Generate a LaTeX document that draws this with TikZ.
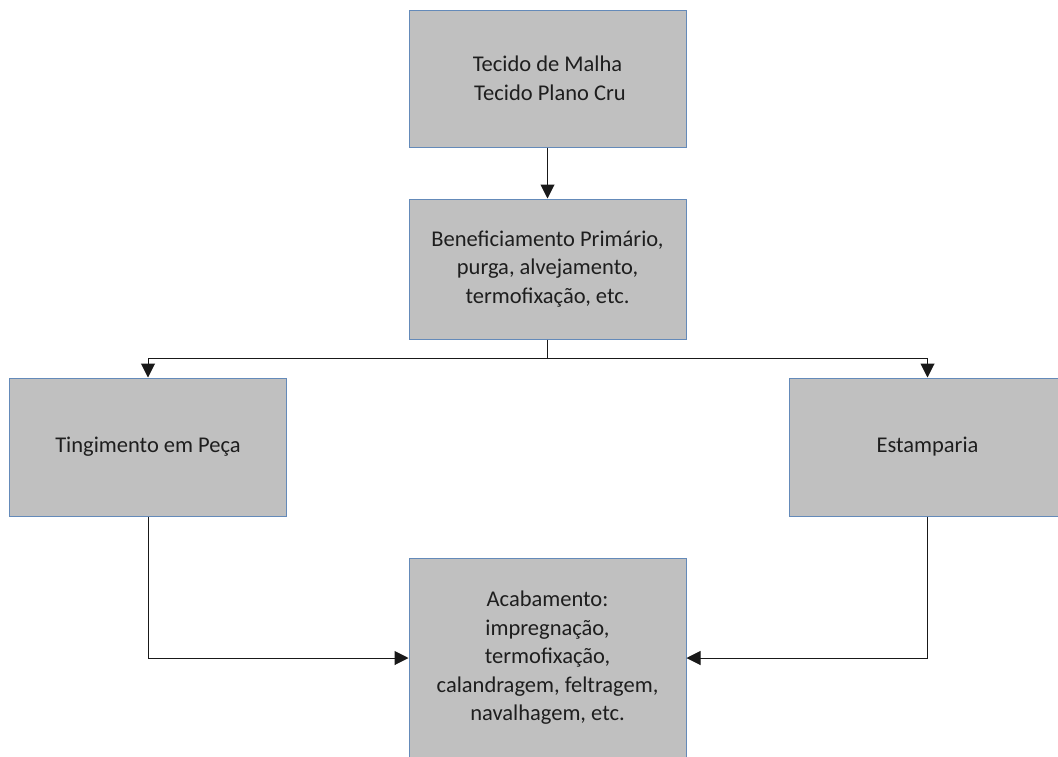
\documentclass[tikz,border=0pt]{standalone}
\usepackage{fontspec}
\setmainfont{Carlito}
\usetikzlibrary{arrows.meta}
\definecolor{boxfill}{RGB}{192,192,192}
\definecolor{boxline}{RGB}{100,138,185}
\definecolor{txt}{RGB}{30,30,30}
\begin{document}
\begin{tikzpicture}[x=1pt,y=-1pt,
  box/.style={draw=boxline, line width=1pt, fill=boxfill, minimum width=277pt,
    inner sep=0pt, align=center, text=txt, font=\fontsize{22.5}{28.5}\selectfont},
  conn/.style={line width=1pt, draw=black!90, -{Triangle[length=14pt,width=14pt]}},
  line/.style={line width=1pt, draw=black!90}]
\useasboundingbox (0,0) rectangle (1058,756);
\clip (0,0) rectangle (1058,756);
\node[box, minimum height=137pt] (top) at (547.5,78.5) {Tecido de Malha\\ \ Tecido Plano Cru};
\node[box, minimum height=140pt] (prim) at (547.5,269) {Beneficiamento Primário,\\ purga, alvejamento,\\ termofixação, etc.};
\node[box, minimum height=138pt] (ting) at (148,447) {Tingimento em Peça};
\node[box, minimum height=138pt] (est) at (927.5,447) {Estamparia};
\node[box, minimum height=200pt] (acab) at (547.5,658) {Acabamento:\\ impregnação,\\ termofixação,\\ calandragem, feltragem,\\ navalhagem, etc.};
\coordinate (j) at (547.5,358);
\draw[conn] (top.south) -- (prim.north);
\draw[line] (prim.south) -- (j);
\draw[conn] (j) -| (ting.north);
\draw[conn] (j) -| (est.north);
\draw[conn] (ting.south) |- (acab.west);
\draw[conn] (est.south) |- (acab.east);
\end{tikzpicture}
\end{document}
